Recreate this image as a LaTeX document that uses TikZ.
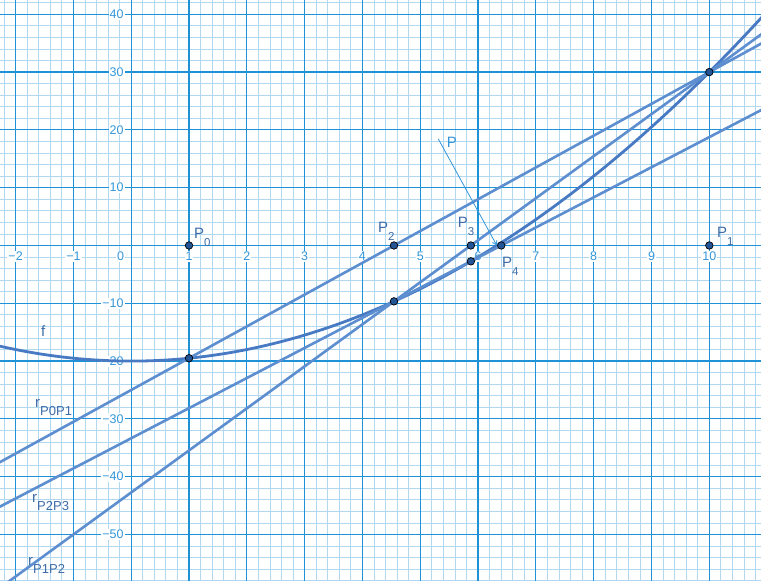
\documentclass[tikz,border=0pt]{standalone}
\usepackage{fontspec}
\setmainfont{Liberation Sans}
\usetikzlibrary{arrows.meta,calc}
\definecolor{gridmajor}{RGB}{30,145,215}
\definecolor{gridminor}{RGB}{178,216,240}
\definecolor{ticklab}{RGB}{50,150,218}
\definecolor{linecol}{RGB}{92,142,208}
\definecolor{fcol}{RGB}{72,122,196}
\definecolor{labcol}{RGB}{62,108,168}
\definecolor{ptfill}{RGB}{35,85,150}
\newcommand\plab[2]{\fontsize{15}{15}\selectfont #1\raisebox{-7.5pt}{\fontsize{11.5}{11.5}\selectfont #2}}
\newcommand\rlab[1]{\fontsize{15}{15}\selectfont r\raisebox{-8pt}{\fontsize{13}{13}\selectfont #1}}
\tikzset{
  minorgrid/.style={gridminor, line width=0.8pt},
  majorgrid/.style={gridmajor, line width=1.2pt},
  secant/.style={linecol, line width=2.6pt},
  fcurve/.style={fcol, line width=2.8pt},
  xtick/.style={ticklab, fill=white, inner sep=1pt, font=\fontsize{12.5}{12.5}\selectfont},
  ytick/.style={ticklab, fill=white, inner sep=1pt, anchor=east, font=\fontsize{12.5}{12.5}\selectfont},
  pt/.style={circle, fill=ptfill, draw=black, line width=0.7pt, inner sep=0pt, minimum size=7.5pt},
  lab/.style={labcol, inner sep=0pt, anchor=base west},
  pointer/.style={ticklab, line width=0.8pt, -{Straight Barb[length=4pt,width=5pt]}}
}
\begin{document}
\begin{tikzpicture}[x=57.81pt, y=5.78pt]
\useasboundingbox (-2.2695,-58.04) rectangle (10.894,42.47);
\fill[white] (-2.2695,-58.04) rectangle (10.894,42.47);
\begin{scope}
\clip (-2.2695,-58.04) rectangle (10.894,42.47);
% minor grid (skipping major positions)
\foreach \i in {-3,...,10} \foreach \k in {1,...,4}
  \draw[minorgrid] ({\i+\k/5},-60) -- ({\i+\k/5},44);
\foreach \j in {-6,...,4} \foreach \k in {1,...,4}
  \draw[minorgrid] (-3,{10*\j+2*\k}) -- (12,{10*\j+2*\k});
% major grid
\foreach \i in {-2,...,10} \draw[majorgrid] (\i,-60) -- (\i,44);
\foreach \j in {-5,...,4} \draw[majorgrid] (-3,10*\j) -- (12,10*\j);
% tick labels
\foreach \i/\t in {-2/−2,-1/−1,1/1,2/2,3/3,4/4,5/5,6/6,7/7,8/8,9/9,10/10}
  \node[xtick] (xt\i) at (\i,-1.9) {\t};
\node[xtick] (xt0) at (-0.185,-1.9) {0};
\foreach \j/\t in {40/40,30/30,20/20,10/10,-10/−10,-20/−20,-30/−30,-40/−40,-50/−50}
  \node[ytick] (yt\j) at (-0.11,\j) {\t};
% key coordinates
\coordinate (A) at (1,-19.5);
\coordinate (B) at (10,30);
\coordinate (C) at (4.545455,-9.669421);
\coordinate (D) at (5.875,-2.742188);
% curve f
\draw[fcurve] plot[domain=-2.4:11, samples=160, smooth] (\x,{\x*\x/2-20});
% secant lines
\draw[secant] ($(A)!-0.6!(B)$) -- ($(A)!1.4!(B)$);
\draw[secant] ($(C)!-1.6!(B)$) -- ($(C)!1.5!(B)$);
\draw[secant] ($(C)!-6.5!(D)$) -- ($(C)!6.5!(D)$);
\end{scope}
% pointer P
\coordinate (Ps) at (5.312,18.43);
\coordinate (Root) at (6.3246,0);
\draw[pointer] (Ps) -- (Root);
% points
\node[pt] (P0) at (1,0) {};
\node[pt] (P1) at (10,0) {};
\node[pt] (P2) at (4.545455,0) {};
\node[pt] (P3) at (5.875,0) {};
\node[pt] (P4) at (6.401309,0) {};
\node[pt] (FA) at (A) {};
\node[pt] (FB) at (B) {};
\node[pt] (FC) at (C) {};
\node[pt] (FD) at (D) {};
% labels
\node[lab] (lP0) at (1.086,1.125) {\plab{P}{0}};
\node[lab] (lP1) at (10.133,1.30) {\plab{P}{1}};
\node[lab] (lP2) at (4.269,2.16) {\plab{P}{2}};
\node[lab] (lP3) at (5.647,3.03) {\plab{P}{3}};
\node[lab] (lP4) at (6.414,-3.89) {\plab{P}{4}};
\node[lab, ticklab] (lP) at (5.458,16.99) {\fontsize{15}{15}\selectfont P};
\node[lab] (lf) at (-1.56,-15.83) {\fontsize{15}{15}\selectfont f};
\node[lab] (lr01) at (-1.664,-28.0) {\rlab{P0P1}};
\node[lab] (lr23) at (-1.716,-44.38) {\rlab{P2P3}};
\node[lab] (lr12) at (-1.785,-55.28) {\rlab{P1P2}};
\end{tikzpicture}
\end{document}
